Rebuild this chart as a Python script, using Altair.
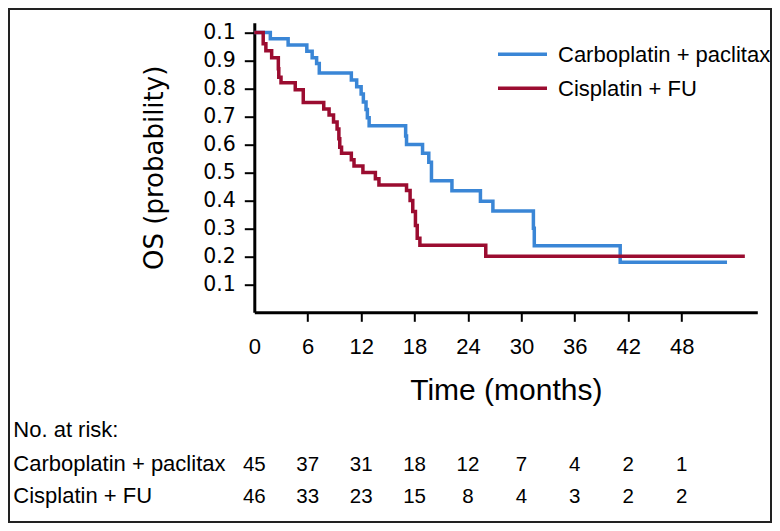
import altair as alt
import pandas as pd

# ---- data ----
series = ["Carboplatin + paclitax", "Cisplatin + FU"]
colors = ["#3a86d6", "#9b0c30"]

blue_t = [0, 1.8, 3.8, 5.9, 6.5, 7.0, 7.3, 10.9, 11.5, 12.0, 12.25, 12.55, 12.7, 12.9,
          17.0, 17.1, 18.9, 19.6, 19.9, 22.2, 25.4, 26.8, 31.35, 31.45, 41.1, 53.1]
blue_s = [1.0, 0.978, 0.955, 0.933, 0.91, 0.889, 0.855, 0.83, 0.806, 0.78, 0.752, 0.725, 0.695, 0.667,
          0.63, 0.60, 0.568, 0.536, 0.47, 0.434, 0.397, 0.362, 0.30, 0.238, 0.179, 0.179]

red_t = [0, 1.0, 1.3, 1.95, 2.7, 2.75, 3.0, 4.6, 5.5, 7.8, 8.4, 8.9, 9.3, 9.5, 9.6, 9.8,
         10.9, 11.2, 12.2, 13.6, 14.0, 17.1, 17.5, 17.8, 18.1, 18.3, 18.6, 26.0, 55.1]
red_s = [1.0, 0.96, 0.935, 0.91, 0.87, 0.84, 0.82, 0.795, 0.75, 0.727, 0.705, 0.68, 0.655, 0.62, 0.59, 0.568,
         0.545, 0.523, 0.5, 0.477, 0.455, 0.435, 0.40, 0.36, 0.31, 0.265, 0.24, 0.20, 0.20]

x_ticks = [0, 6, 12, 18, 24, 30, 36, 42, 48]
y_ticks = [0.1, 0.2, 0.3, 0.4, 0.5, 0.6, 0.7, 0.8, 0.9, 1.0]
y_tick_labels = ["0.1", "0.2", "0.3", "0.4", "0.5", "0.6", "0.7", "0.8", "0.9", "0.1"]

risk_title = "No. at risk:"
risk_carbo = [45, 37, 31, 18, 12, 7, 4, 2, 1]
risk_cis = [46, 33, 23, 15, 8, 4, 3, 2, 2]

x_title = "Time (months)"
y_title = "OS (probability)"

# ---- layout constants ----
W, H = 503, 289.6
SANS = "Liberation Sans"

curve_df = pd.concat([
    pd.DataFrame({"t": blue_t, "s": blue_s, "group": series[0]}),
    pd.DataFrame({"t": red_t, "s": red_s, "group": series[1]}),
], ignore_index=True)

label_expr = "[" + ",".join("'%s'" % l for l in y_tick_labels) + "][round(datum.value*10)-1]"

x_axis = alt.Axis(
    values=x_ticks, grid=False, labelFlush=False, labelOverlap=False,
    labelFont=SANS, labelFontSize=22, labelColor="black",
    labelBaseline="alphabetic", labelPadding=31.7,
    tickSize=9, tickWidth=2,
    tickColor={"condition": {"test": "datum.value === 0", "value": "transparent"}, "value": "black"},
    domainColor="black", domainWidth=3,
    title=x_title, titleFont=SANS, titleFontSize=30, titleFontWeight="normal",
    titleColor="black", titleX=W / 2, titleY=87, titleAlign="center", titleBaseline="alphabetic",
)
y_axis = alt.Axis(
    values=y_ticks, grid=False, labelFlush=False, labelOverlap=False,
    labelExpr=label_expr, labelFont="DejaVu Sans", labelFontSize=20.5, labelColor="black",
    labelPadding=9, tickSize=10, tickWidth=2, tickColor="black",
    domainColor="black", domainWidth=3,
    title=y_title, titleFont="DejaVu Sans", titleFontSize=26, titleFontWeight="normal",
    titleColor="black", titleAngle=270, titleX=-92.3, titleY=144.6,
    titleAlign="center", titleBaseline="alphabetic",
)

curves = alt.Chart(curve_df).mark_line(interpolate="step-after", strokeWidth=3.5).encode(
    x=alt.X("t:Q", scale=alt.Scale(domain=[0, 56.5], nice=False, zero=False), axis=x_axis),
    y=alt.Y("s:Q", scale=alt.Scale(domain=[0, 1.035], nice=False), axis=y_axis),
    color=alt.Color("group:N", scale=alt.Scale(domain=series, range=colors), legend=None),
    detail="group:N",
)

layers = [curves]

# legend (manual)
for i, (name, col) in enumerate(zip(series, colors)):
    one = pd.DataFrame({"label": [name]})
    ly = 31.6 + 34 * i
    layers.append(alt.Chart(one).mark_rule(color=col, strokeWidth=3.5).encode(
        x=alt.value(243.7), x2=alt.value(292.7), y=alt.value(ly)))
    layers.append(alt.Chart(one).mark_text(
        font=SANS, fontSize=22, align="left", baseline="alphabetic", color="black"
    ).encode(x=alt.value(303.7), y=alt.value(ly + 8), text="label:N"))

# risk table
layers.append(alt.Chart(pd.DataFrame({"label": [risk_title]})).mark_text(
    font=SANS, fontSize=22, align="left", baseline="alphabetic", color="black"
).encode(x=alt.value(-241), y=alt.value(414), text="label:N"))

row_y = [447.8, 479.8]
for i, (name, counts) in enumerate(zip(series, [risk_carbo, risk_cis])):
    layers.append(alt.Chart(pd.DataFrame({"label": [name]})).mark_text(
        font=SANS, fontSize=22, align="left", baseline="alphabetic", color="black"
    ).encode(x=alt.value(-241), y=alt.value(row_y[i]), text="label:N"))
    layers.append(alt.Chart(pd.DataFrame({"t": x_ticks, "n": counts})).mark_text(
        font=SANS, fontSize=20.5, align="center", baseline="alphabetic", color="black"
    ).encode(x=alt.X("t:Q"), y=alt.value(row_y[i]), text="n:Q"))

# outer frame
layers.append(alt.Chart(pd.DataFrame({"f": [0]})).mark_rect(
    filled=False, stroke="#222222", strokeWidth=2
).encode(x=alt.value(-245.3), x2=alt.value(516.7), y=alt.value(-13.7), y2=alt.value(499.3)))

chart = alt.layer(*layers).properties(
    width=W, height=H,
    padding={"left": 246.3, "top": 14.7, "right": 14.7, "bottom": 210.7},
    autosize=alt.AutoSizeParams(type="none"),
    background="white",
).configure_view(stroke=None)

chart.save("out.html", embed_options={"renderer": "svg", "actions": False})
